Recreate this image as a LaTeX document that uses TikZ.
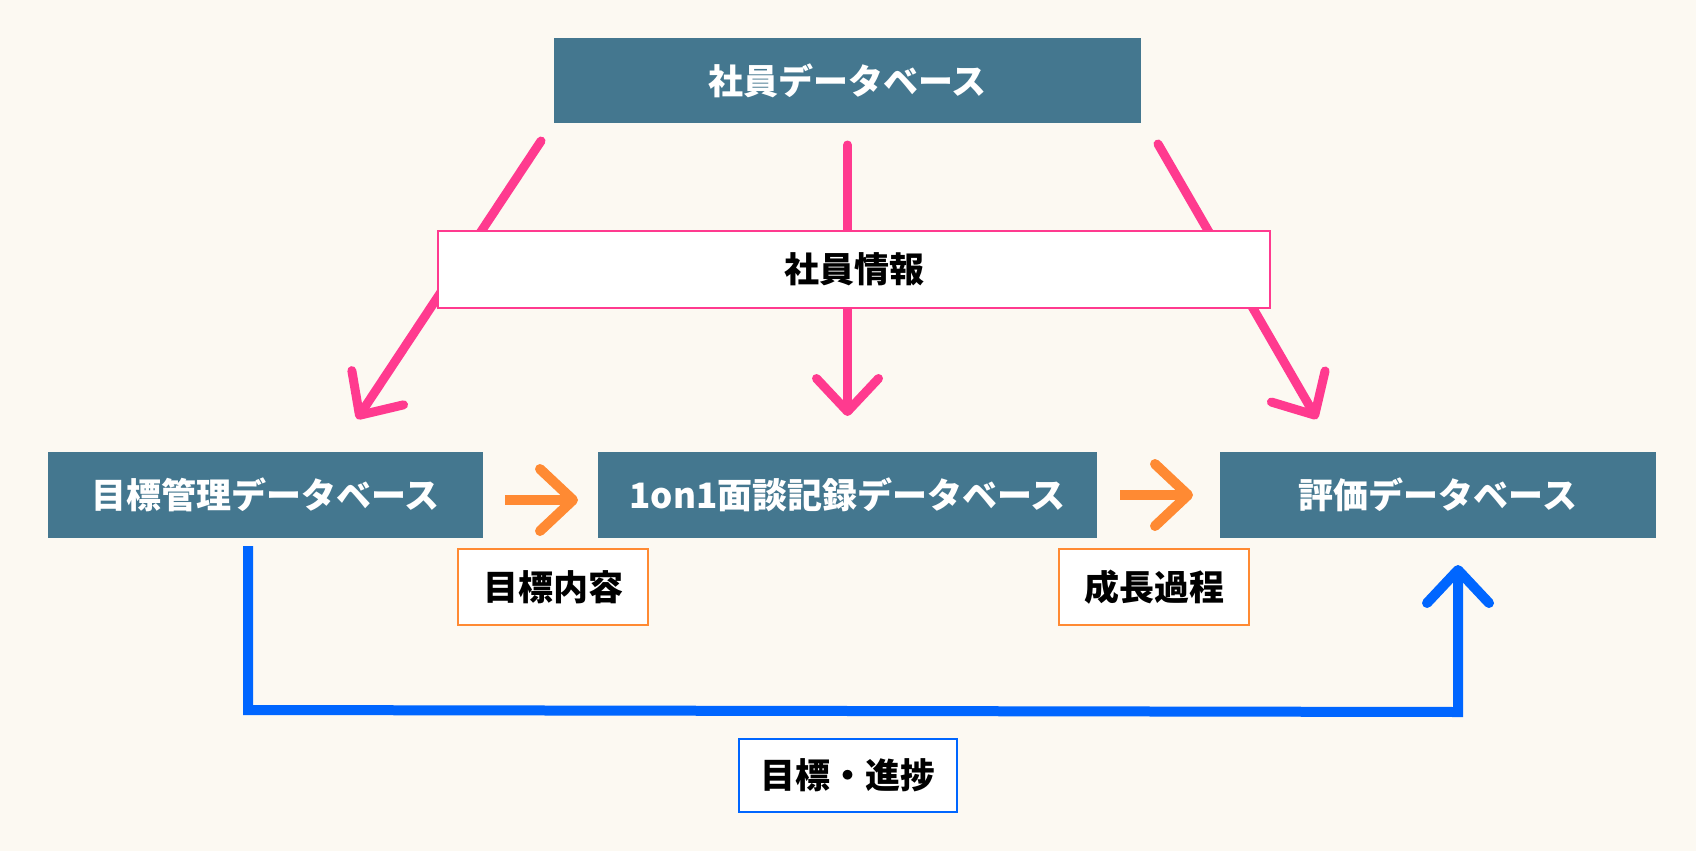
\documentclass[tikz,border=0pt]{standalone}
\usepackage{fontspec}
\setmainfont{Noto Sans CJK JP}
\usetikzlibrary{arrows.meta}
\definecolor{bg}{HTML}{FCF9F2}
\definecolor{boxc}{HTML}{44778F}
\definecolor{pinkc}{HTML}{FF3A8F}
\definecolor{orangec}{HTML}{FF8A33}
\definecolor{bluec}{HTML}{0066FF}
\tikzset{
  dbbox/.style={fill=boxc, text=white, inner sep=0pt, font=\fontsize{35}{41}\selectfont\bfseries},
  lblbox/.style={fill=white, text=black, inner sep=0pt, line width=1.2pt, font=\fontsize{35}{41}\selectfont\bfseries},
  headtip/.tip={Straight Barb[length=33pt, width=62pt, round]},
  pinkarrow/.style={draw=pinkc, line width=9pt, line cap=round, -headtip},
  orangearrow/.style={draw=orangec, line width=10pt, -headtip},
  bluearrow/.style={draw=bluec, line width=10pt, -headtip},
}
\begin{document}
\begin{tikzpicture}[x=1pt, y=-1pt]
\useasboundingbox (0,0) rectangle (1696,851);
\fill[bg] (0,0) rectangle (1696,851);
% database boxes
\node[dbbox, minimum width=587pt, minimum height=85pt] (emp) at (847.5,80.5) {社員データベース};
\node[dbbox, minimum width=435pt, minimum height=86pt] (goal) at (265.5,495) {目標管理データベース};
\node[dbbox, minimum width=499pt, minimum height=86pt] (oneon) at (847.5,495) {1on1面談記録データベース};
\node[dbbox, minimum width=436pt, minimum height=86pt] (eval) at (1438,495) {評価データベース};
% pink connector coordinates
\coordinate (ls) at (541,141);
\coordinate (le) at (357,419);
\coordinate (ms) at (847.5,145);
\coordinate (me) at (847.5,416);
\coordinate (rs) at (1158,144);
\coordinate (re) at (1317,419);
\draw[pinkarrow] (ls) -- (le);
\draw[pinkarrow] (ms) -- (me);
\draw[pinkarrow] (rs) -- (re);
% info label over pink arrows
\node[lblbox, draw=pinkc, minimum width=832pt, minimum height=77pt] (info) at (854,269.5) {社員情報};
% orange arrows
\coordinate (o1s) at (505,500);
\coordinate (o1e) at (578,500);
\coordinate (o2s) at (1120,495);
\coordinate (o2e) at (1193,495);
\draw[orangearrow] (o1s) -- (o1e);
\draw[orangearrow] (o2s) -- (o2e);
\node[lblbox, draw=orangec, minimum width=190pt, minimum height=76pt] (l1) at (553,587) {目標内容};
\node[lblbox, draw=orangec, minimum width=190pt, minimum height=76pt] (l2) at (1154,587) {成長過程};
% blue connector
\coordinate (bs) at (248,546);
\coordinate (be) at (1458,565);
\draw[bluearrow] (bs) -- (248,710) -- (1458,712) -- (be);
\node[lblbox, draw=bluec, minimum width=218pt, minimum height=73pt] (l3) at (848,775.5) {目標・進捗};
\end{tikzpicture}
\end{document}
